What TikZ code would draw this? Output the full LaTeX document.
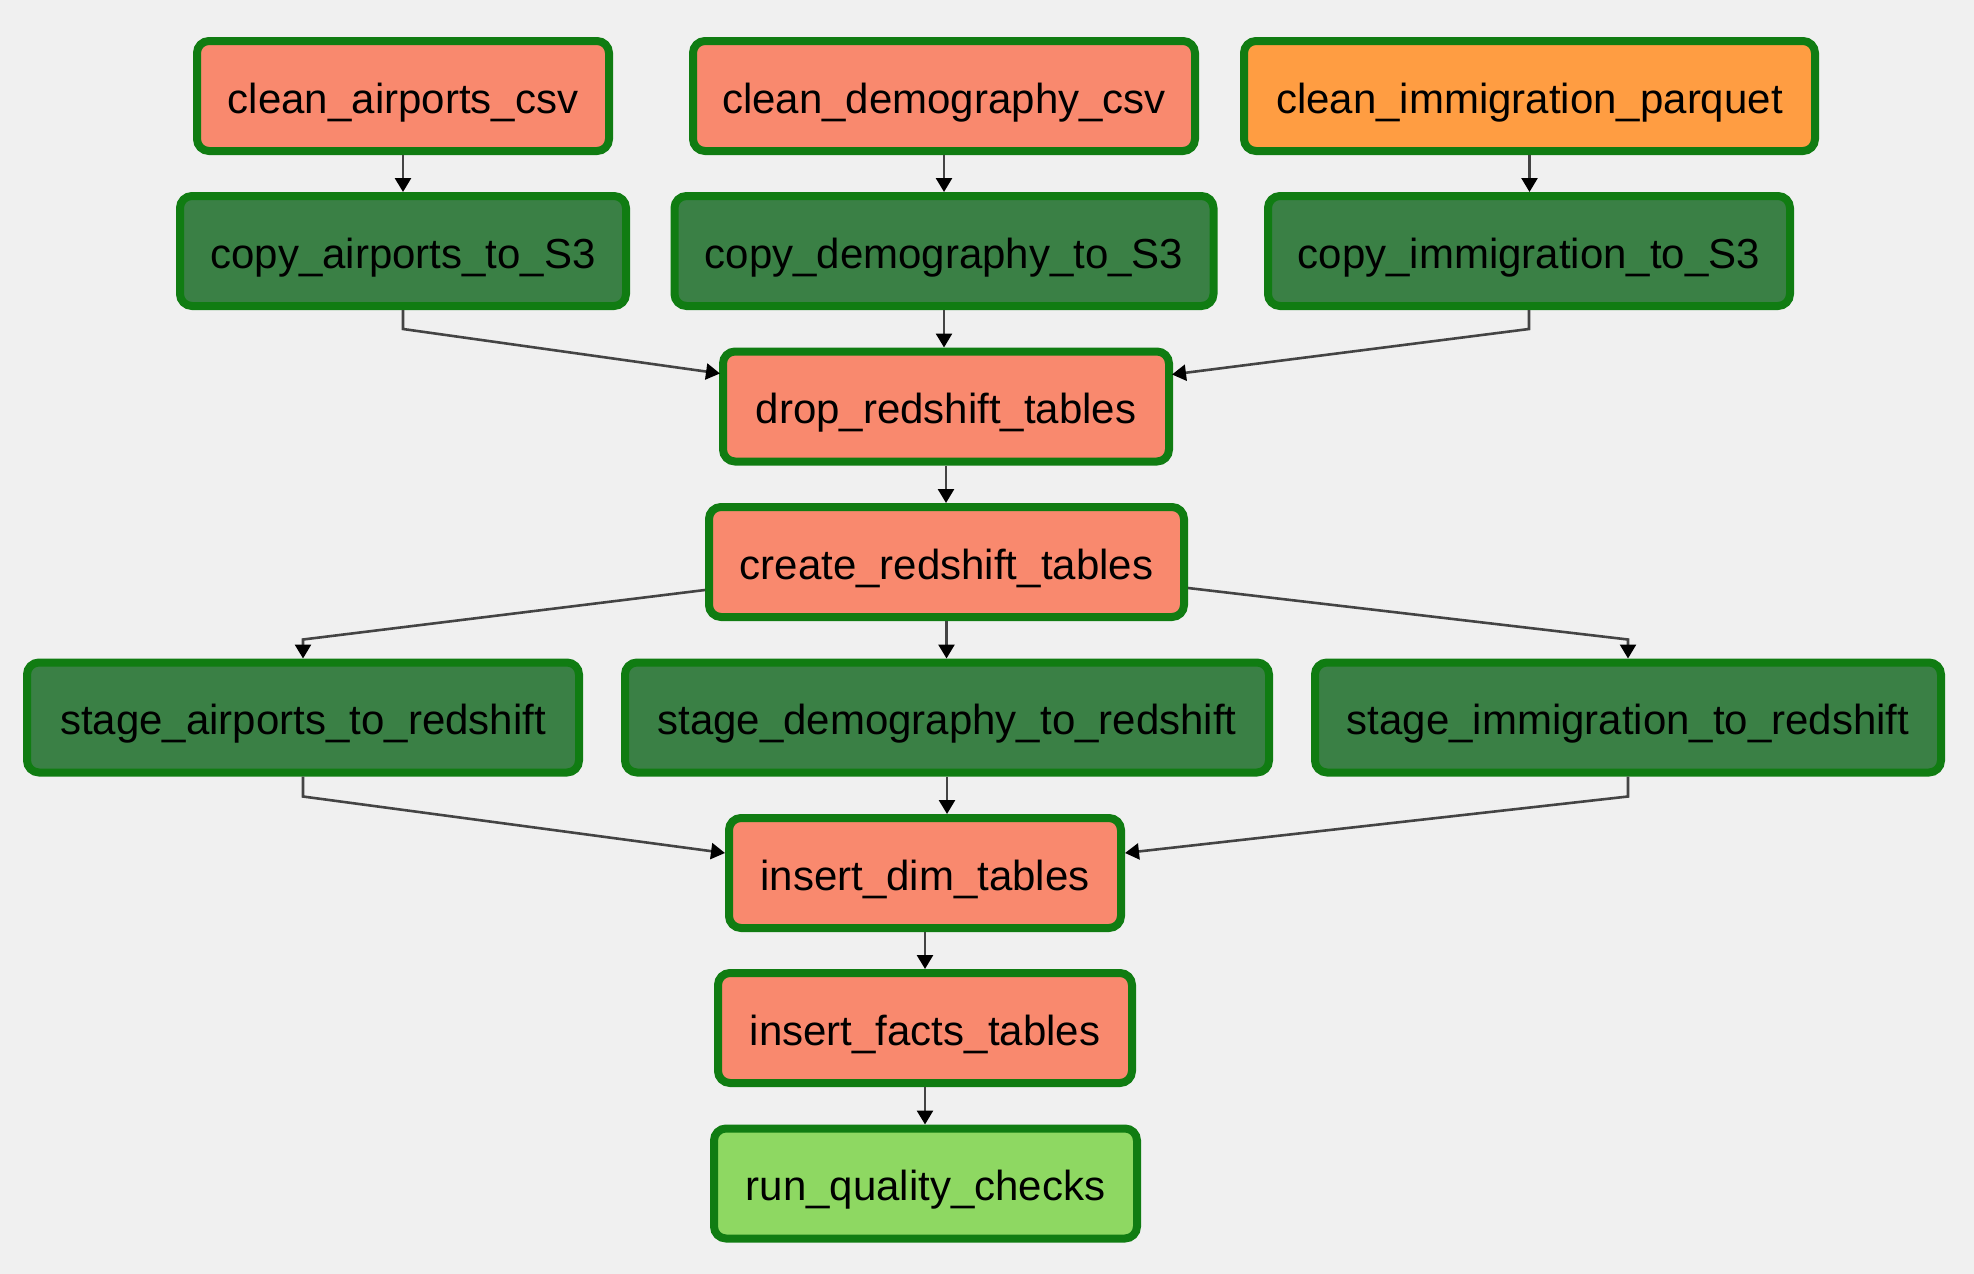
\documentclass[tikz,border=0pt]{standalone}
\usepackage{fontspec}
\setmainfont{Liberation Sans}
\usetikzlibrary{arrows.meta,calc}
\definecolor{bg}{RGB}{240,240,240}
\definecolor{salmonfill}{RGB}{249,137,110}
\definecolor{orangefill}{RGB}{255,157,66}
\definecolor{dkgreenfill}{RGB}{58,128,69}
\definecolor{ltgreenfill}{RGB}{142,216,98}
\definecolor{bordergreen}{RGB}{16,124,18}
\definecolor{edgegray}{RGB}{68,68,68}
\tikzset{
  task/.style={draw=bordergreen, line width=8pt, rounded corners=12pt,
    minimum height=110pt, inner sep=0pt, text=black,
    text height=34pt, text depth=0pt,
    font=\fontsize{42}{50}\selectfont},
  salmontask/.style={task, fill=salmonfill},
  orangetask/.style={task, fill=orangefill},
  dktask/.style={task, fill=dkgreenfill},
  lttask/.style={task, fill=ltgreenfill},
  edge/.style={draw=edgegray, line width=2.6pt,
    -{Triangle[length=14pt,width=16pt,color=black]}}
}
\begin{document}
\begin{tikzpicture}[x=1pt,y=-1pt]
\fill[bg] (0,0) rectangle (1974,1274);
\useasboundingbox (0,0) rectangle (1974,1274);

\node[salmontask, minimum width=412pt] (ca) at (403,96) {clean\_airports\_csv};
\node[salmontask, minimum width=502pt] (cd) at (944,96) {clean\_demography\_csv};
\node[orangetask, minimum width=571pt] (ci) at (1529.5,96) {clean\_immigration\_parquet};

\node[dktask, minimum width=446pt] (pa) at (403,251) {copy\_airports\_to\_S3};
\node[dktask, minimum width=539pt] (pd) at (944,251) {copy\_demography\_to\_S3};
\node[dktask, minimum width=522pt] (pi) at (1529,251) {copy\_immigration\_to\_S3};

\node[salmontask, minimum width=446pt] (drop) at (946,406.5) {drop\_redshift\_tables};
\node[salmontask, minimum width=475pt] (create) at (946.5,562) {create\_redshift\_tables};

\node[dktask, minimum width=552pt] (sa) at (303,717.5) {stage\_airports\_to\_redshift};
\node[dktask, minimum width=644pt] (sd) at (947,717.5) {stage\_demography\_to\_redshift};
\node[dktask, minimum width=626pt] (si) at (1628,717.5) {stage\_immigration\_to\_redshift};

\node[salmontask, minimum width=392pt] (dim) at (925,873) {insert\_dim\_tables};
\node[salmontask, minimum width=414pt] (facts) at (925,1028) {insert\_facts\_tables};
\node[lttask, minimum width=423pt] (run) at (925.5,1183.5) {run\_quality\_checks};

\draw[edge] (ca.south) -- (ca.south |- pa.north);
\draw[edge] (cd.south) -- (cd.south |- pd.north);
\draw[edge] (ci.south) -- (ci.south |- pi.north);

\draw[edge] (pa.south) -- ++(0,19) -- ($(drop.north west)+(1,26)$);
\draw[edge] (pd.south) -- (pd.south |- drop.north);
\draw[edge] (pi.south) -- ++(0,19) -- ($(drop.north east)+(-1,27)$);

\draw[edge] (drop.south) -- (drop.south |- create.north);

\draw[edge] ($(create.south west)+(0,-31)$) -- ($(sa.north)+(0,-19)$) -- (sa.north);
\draw[edge] (create.south) -- (create.south |- sd.north);
\draw[edge] ($(create.south east)+(0,-33)$) -- ($(si.north)+(0,-19)$) -- (si.north);

\draw[edge] (sa.south) -- ++(0,20) -- ($(dim.north west)+(0,39)$);
\draw[edge] (sd.south) -- (sd.south |- dim.north);
\draw[edge] (si.south) -- ++(0,20) -- ($(dim.north east)+(0,39)$);

\draw[edge] (dim.south) -- (dim.south |- facts.north);
\draw[edge] (facts.south) -- (facts.south |- run.north);
\end{tikzpicture}
\end{document}
